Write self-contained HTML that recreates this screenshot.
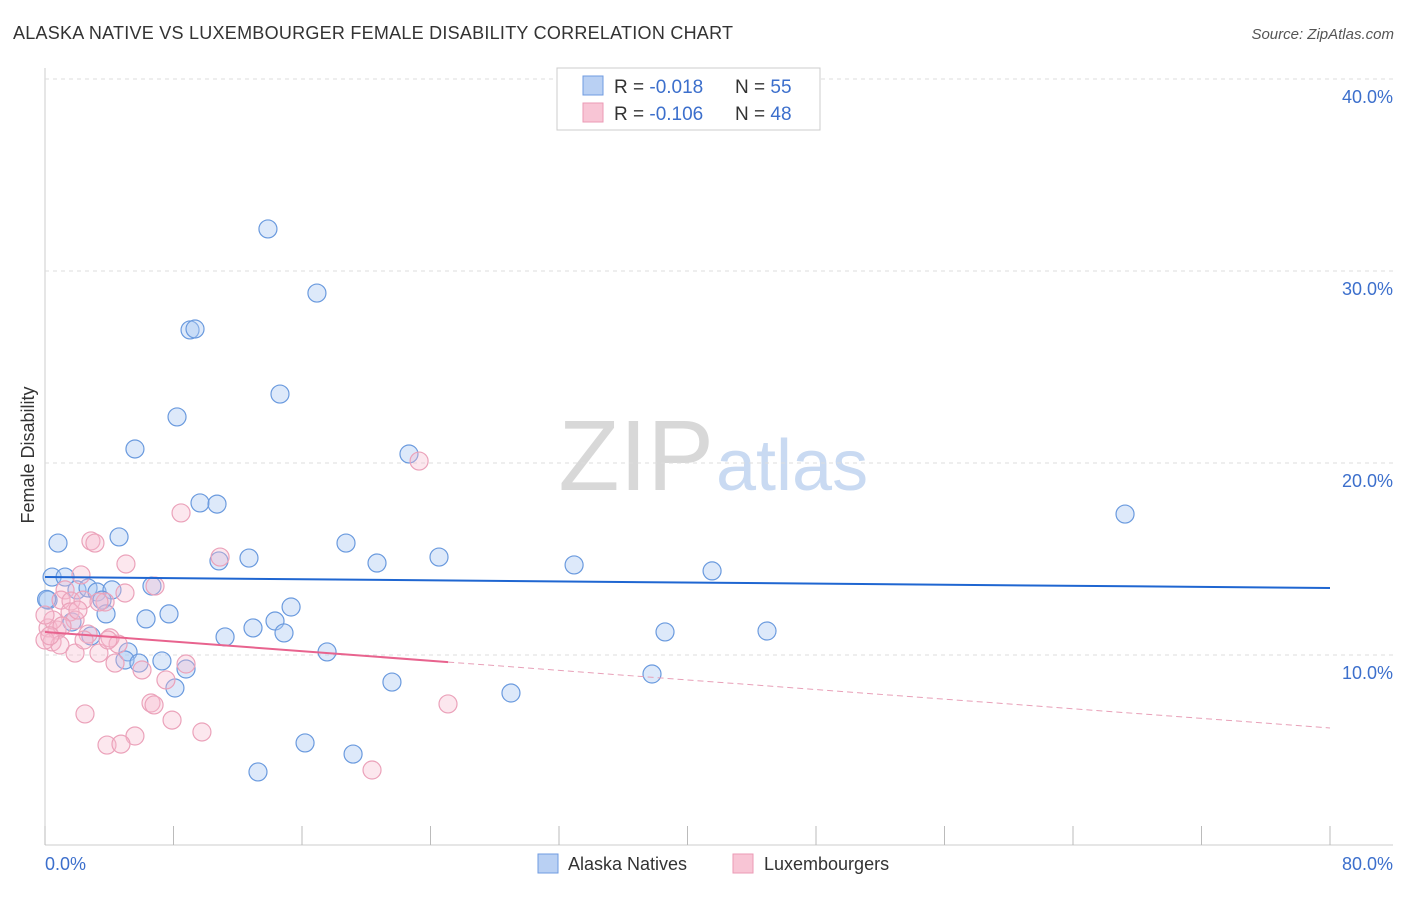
<!DOCTYPE html>
<html><head><meta charset="utf-8"><style>
body{margin:0;background:#fff;font-family:"Liberation Sans",sans-serif;}
svg text{font-family:"Liberation Sans",sans-serif;}
</style></head><body>
<svg id="chart" width="1406" height="892">
<text x="13" y="39" font-size="18" fill="#333" textLength="720">ALASKA NATIVE VS LUXEMBOURGER FEMALE DISABILITY CORRELATION CHART</text>
<text x="1394" y="39" font-size="15" fill="#555" text-anchor="end" font-style="italic">Source: ZipAtlas.com</text>
<text x="714" y="490" font-size="100" fill="#d8d8d8" text-anchor="end" font-family="Liberation Serif">ZIP</text>
<text x="716" y="490" font-size="72" fill="#c9daf2">atlas</text>
<text transform="translate(34,455) rotate(-90)" font-size="18" fill="#333" text-anchor="middle">Female Disability</text>
<g id="grid"></g><g id="pts"></g><g id="lines"></g>
<text x="45" y="870" font-size="18" fill="#3c6fcc">0.0%</text>
<text x="1393" y="870" font-size="18" fill="#3c6fcc" text-anchor="end">80.0%</text>
<g>
<rect x="557" y="68" width="263" height="62" fill="#fff" stroke="#ccc"/>
<rect x="583" y="76" width="20" height="19" fill="#b9d0f3" stroke="#6f9be0"/>
<rect x="583" y="103" width="20" height="19" fill="#f8c5d5" stroke="#eb9ab5"/>
<text x="614" y="93" font-size="19" fill="#333">R = <tspan fill="#3c6fcc">-0.018</tspan></text>
<text x="735" y="93" font-size="19" fill="#333">N = <tspan fill="#3c6fcc">55</tspan></text>
<text x="614" y="120" font-size="19" fill="#333">R = <tspan fill="#3c6fcc">-0.106</tspan></text>
<text x="735" y="120" font-size="19" fill="#333">N = <tspan fill="#3c6fcc">48</tspan></text>
</g>
<g>
<rect x="538" y="854" width="20" height="19" fill="#b9d0f3" stroke="#6f9be0"/>
<text x="568" y="870" font-size="18" fill="#333">Alaska Natives</text>
<rect x="733" y="854" width="20" height="19" fill="#f8c5d5" stroke="#eb9ab5"/>
<text x="764" y="870" font-size="18" fill="#333">Luxembourgers</text>
</g>
</svg>
<script>
const yTicks=[10,20,30,40];
const xTicks=[0,8,16,24,32,40,48,56,64,72,80];
const blueX=[13.88,16.93,9.03,9.34,14.63,8.22,5.60,22.66,67.24,9.65,10.71,0.81,4.61,18.74,12.70,10.83,24.53,20.67,32.94,41.53,0.44,1.25,0.19,1.99,2.68,3.24,4.17,3.55,6.66,3.80,6.29,7.72,15.32,1.68,12.95,14.32,14.88,2.86,11.21,38.60,44.95,5.17,4.98,5.85,7.28,8.78,17.56,8.09,21.60,29.01,37.79,16.19,19.18,13.26,0.1];
const blueY=[32.19,28.85,26.93,26.98,23.59,22.40,20.73,20.47,17.34,17.92,17.86,15.83,16.15,15.83,15.05,14.90,15.10,14.79,14.69,14.38,14.06,14.06,12.86,13.39,13.49,13.28,13.39,12.86,13.59,12.14,11.88,12.14,12.50,11.72,11.41,11.77,11.15,10.99,10.94,11.20,11.25,10.16,9.74,9.58,9.69,9.27,10.16,8.28,8.59,8.02,9.01,5.42,4.84,3.91,12.9];
const pinkX=[23.29,8.47,2.86,3.11,10.90,5.04,2.24,1.25,1.00,1.62,2.37,3.74,4.98,6.85,1.56,1.87,3.36,0.19,0.75,0.44,0.93,2.68,4.05,4.55,3.36,1.87,4.36,6.04,7.53,8.78,6.60,6.79,7.91,2.49,9.77,5.60,3.86,4.73,20.36,25.09,0.50,0.0,1.06,2.43,3.92,0.0,2.05,0.3];
const pinkY=[20.10,17.40,15.94,15.83,15.10,14.74,14.17,13.39,12.86,12.81,12.86,12.76,13.23,13.59,12.24,11.82,12.76,11.41,11.30,10.68,10.52,11.09,10.89,10.57,10.10,10.10,9.58,9.22,8.70,9.53,7.50,7.40,6.61,6.93,5.99,5.78,5.31,5.36,4.01,7.45,11.82,10.78,11.51,10.78,10.78,12.08,12.34,11.0];
const blueTrend=[14.06,13.49];
const pinkTrend=[11.20,6.20];
const pinkSolidEnd=25.1;
const NS='http://www.w3.org/2000/svg';
const X=v=>45+v/80*1285, Y=v=>847-v*19.2;
function mk(tag,attrs,parent){const e=document.createElementNS(NS,tag);for(const k in attrs)e.setAttribute(k,attrs[k]);parent.appendChild(e);return e;}
const grid=document.getElementById('grid');
mk('line',{x1:45,y1:68,x2:45,y2:845,stroke:'#ccc'},grid);
mk('line',{x1:45,y1:845,x2:1393,y2:845,stroke:'#ccc'},grid);
yTicks.forEach(t=>{
 const l=mk('line',{x1:45,y1:Y(t),x2:1393,y2:Y(t),stroke:'#ddd','stroke-dasharray':'4,4'},grid);
 
 
 const tx=mk('text',{x:1393,y:Y(t)+24,'font-size':18,fill:'#3c6fcc','text-anchor':'end'},grid);
 tx.textContent=t.toFixed(1)+'%';
 
 
});
xTicks.forEach(t=>{
 const l=mk('line',{x1:X(t),y1:826,x2:X(t),y2:845,stroke:'#bbb'},grid);
 
 
});
const pts=document.getElementById('pts');
blueX.forEach((v,i)=>{
 const c=mk('circle',{cx:X(v),cy:Y(blueY[i]),r:9,fill:'rgba(170,200,242,0.4)',stroke:'#6a9ade','stroke-width':1.2},pts);
 
 
});
pinkX.forEach((v,i)=>{
 const c=mk('circle',{cx:X(v),cy:Y(pinkY[i]),r:9,fill:'rgba(246,185,205,0.35)',stroke:'#eba2ba','stroke-width':1.2},pts);
 
 
});
const lines=document.getElementById('lines');
const bl=mk('line',{x1:X(0),y1:Y(blueTrend[0]),x2:X(80),y2:Y(blueTrend[1]),stroke:'#1f66d1','stroke-width':2},lines);


const py=x=>pinkTrend[0]+(pinkTrend[1]-pinkTrend[0])*x/80;
const ps=mk('line',{x1:X(0),y1:Y(py(0)),x2:X(pinkSolidEnd),y2:Y(py(pinkSolidEnd)),stroke:'#e8638e','stroke-width':2},lines);


const pd=mk('line',{x1:X(pinkSolidEnd),y1:Y(py(pinkSolidEnd)),x2:X(80),y2:Y(py(80)),stroke:'#e8a0b8','stroke-width':1,'stroke-dasharray':'6,4'},lines);


</script>
</body></html>
